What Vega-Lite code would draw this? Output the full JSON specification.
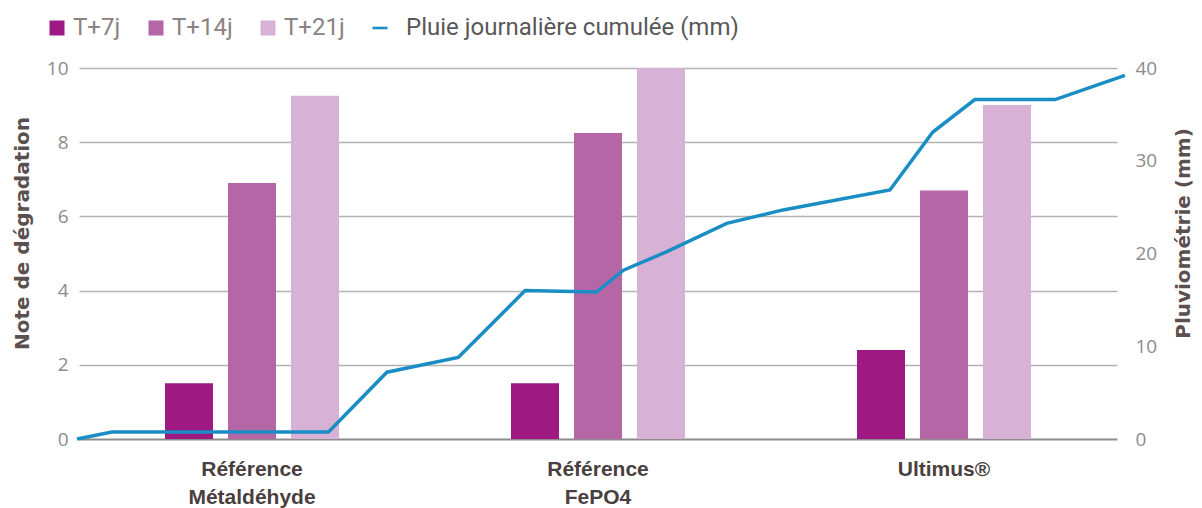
{
  "$schema": "https://vega.github.io/schema/vega-lite/v6.json",
  "width": 1048,
  "height": 371,
  "autosize": {"type": "none"},
  "padding": {"left": 77, "top": 68, "right": 77, "bottom": 69},
  "background": "white",
  "config": {"view": {"stroke": null}},
  "datasets": {
    "notes": [
      {"produit": "Référence Métaldéhyde", "serie": "T+7j", "note": 1.5},
      {"produit": "Référence Métaldéhyde", "serie": "T+14j", "note": 6.9},
      {"produit": "Référence Métaldéhyde", "serie": "T+21j", "note": 9.25},
      {"produit": "Référence FePO4", "serie": "T+7j", "note": 1.5},
      {"produit": "Référence FePO4", "serie": "T+14j", "note": 8.25},
      {"produit": "Référence FePO4", "serie": "T+21j", "note": 10},
      {"produit": "Ultimus®", "serie": "T+7j", "note": 2.4},
      {"produit": "Ultimus®", "serie": "T+14j", "note": 6.7},
      {"produit": "Ultimus®", "serie": "T+21j", "note": 9.0}
    ],
    "pluie": [
      {"jour": 0, "pluie": 0},
      {"jour": 0.7, "pluie": 0.75},
      {"jour": 5.04, "pluie": 0.75},
      {"jour": 6.21, "pluie": 7.2},
      {"jour": 7.64, "pluie": 8.8},
      {"jour": 8.98, "pluie": 16.0},
      {"jour": 10.41, "pluie": 15.85},
      {"jour": 10.95, "pluie": 18.2},
      {"jour": 11.82, "pluie": 20.2},
      {"jour": 13.02, "pluie": 23.25},
      {"jour": 14.15, "pluie": 24.7},
      {"jour": 16.29, "pluie": 26.85},
      {"jour": 17.15, "pluie": 33.1},
      {"jour": 17.99, "pluie": 36.6},
      {"jour": 19.6, "pluie": 36.6},
      {"jour": 21, "pluie": 39.2}
    ]
  },
  "layer": [
    {
      "data": {"name": "notes"},
      "mark": {"type": "bar"},
      "encoding": {
        "x": {
          "field": "produit",
          "type": "nominal",
          "sort": ["Référence Métaldéhyde", "Référence FePO4", "Ultimus®"],
          "scale": {"range": [2, 1040], "paddingInner": 0.133, "paddingOuter": 0.0665},
          "axis": {
            "title": null,
            "ticks": false,
            "domain": false,
            "labelAngle": 0,
            "labelFont": "Liberation Sans",
            "labelFontWeight": "bold",
            "labelFontSize": 21,
            "labelColor": "#4a3f3f",
            "labelPadding": 19,
            "labelLineHeight": 28,
            "labelDx": -10,
            "labelExpr": "split(datum.label, ' ')"
          }
        },
        "xOffset": {
          "field": "serie",
          "type": "nominal",
          "sort": ["T+7j", "T+14j", "T+21j"],
          "scale": {"paddingInner": 0.238, "paddingOuter": 1}
        },
        "y": {
          "field": "note",
          "type": "quantitative",
          "scale": {"domain": [0, 10]},
          "axis": {
            "values": [0, 2, 4, 6, 8, 10],
            "grid": true,
            "gridColor": {"condition": {"test": "datum.value === 0", "value": "#8c8c8c"}, "value": "#b3b3b3"},
            "gridWidth": {"condition": {"test": "datum.value === 0", "value": 2.2}, "value": 1.5},
            "ticks": false,
            "domain": false,
            "labelFont": "Open Sans",
            "labelFontSize": 19,
            "labelColor": "#8c8c8c",
            "labelPadding": 9,
            "title": "Note de dégradation",
            "titleFont": "DejaVu Sans",
            "titleFontSize": 20,
            "titleFontWeight": "bold",
            "titleColor": "#5b4f4f",
            "titlePadding": 14,
            "titleY": 165
          }
        },
        "color": {
          "field": "serie",
          "type": "nominal",
          "scale": {
            "domain": ["T+7j", "T+14j", "T+21j", "Pluie journalière cumulée (mm)"],
            "range": ["#9e1982", "#b566a6", "#d8b2d6", "#1a8ec4"]
          },
          "legend": {
            "orient": "none",
            "legendX": -32,
            "legendY": -52,
            "direction": "horizontal",
            "columns": 4,
            "title": null,
            "labelFont": "Roboto",
            "labelFontSize": 24,
            "labelColor": "#8a7f80",
            "labelLimit": 600,
            "labelOffset": 4,
            "columnPadding": 23,
            "symbolSize": 225,
            "symbolType": "square",
            "symbolStrokeWidth": 0,
            "encode": {
              "symbols": {
                "update": {
                  "shape": {"signal": "datum.value === 'Pluie journalière cumulée (mm)' ? 'M-1,-0.17H1V0.17H-1Z' : 'square'"},
                  "fill": {"signal": "scale('color', datum.value)"},
                  "opacity": {"value": 1}
                }
              },
              "labels": {
                "update": {
                  "fill": {"signal": "datum.value === 'Pluie journalière cumulée (mm)' ? '#585858' : '#8b8282'"},
                  "dx": {"signal": "datum.value === 'Pluie journalière cumulée (mm)' ? 10 : 0"}
                }
              }
            }
          }
        }
      }
    },
    {
      "data": {"name": "pluie"},
      "mark": {"type": "line", "strokeWidth": 3.5},
      "encoding": {
        "x": {
          "field": "jour",
          "type": "quantitative",
          "scale": {"domain": [0, 21], "nice": false, "zero": false},
          "axis": null
        },
        "y": {
          "field": "pluie",
          "type": "quantitative",
          "scale": {"domain": [0, 40]},
          "axis": {
            "orient": "right",
            "values": [0, 10, 20, 30, 40],
            "grid": false,
            "ticks": false,
            "domain": false,
            "labelFont": "Open Sans",
            "labelFontSize": 19,
            "labelColor": "#8c8c8c",
            "labelPadding": 10,
            "title": "Pluviométrie (mm)",
            "titleFont": "DejaVu Sans",
            "titleFontSize": 20,
            "titleFontWeight": "bold",
            "titleColor": "#5b4f4f",
            "titlePadding": 17,
            "titleAngle": 270,
            "titleBaseline": "top",
            "titleY": 165
          }
        },
        "color": {"datum": "Pluie journalière cumulée (mm)"}
      }
    }
  ],
  "resolve": {"scale": {"x": "independent", "y": "independent"}}
}
